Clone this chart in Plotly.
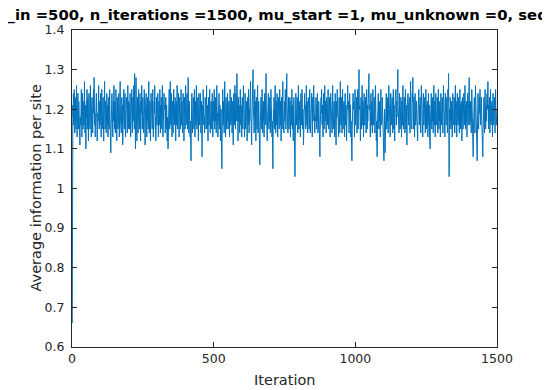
import plotly.graph_objects as go

iterations_max = 1500
y_ticks = [0.6, 0.7, 0.8, 0.9, 1.0, 1.1, 1.2, 1.3, 1.4]
x_ticks = [0, 500, 1000, 1500]
title_text = "n_in =500, n_iterations =1500, mu_start =1, mu_unknown =0, seq_length =100"
x_label = "Iteration"
y_label = "Average information per site"

avg_info = [
    0.66,1.13,1.21,1.18,1.24,1.16,1.20,1.25,1.19,1.14,1.22,1.17,1.23,1.15,1.19,1.26,1.18,1.13,1.21,1.16,1.24,1.19,1.15,1.22,1.17,1.20,1.14,1.11,1.18,1.23,1.16,1.21,1.25,1.17,1.13,1.20,1.24,1.18,1.15,1.22,1.19,1.16,1.23,1.27,1.18,1.14,1.21,1.17,1.10,1.16,
    1.22,1.18,1.25,1.15,1.19,1.23,1.17,1.12,1.20,1.24,1.18,1.21,1.15,1.19,1.26,1.20,1.16,1.13,1.21,1.17,1.23,1.19,1.14,1.18,1.22,1.25,1.19,1.28,1.21,1.16,1.19,1.13,1.17,1.22,1.18,1.24,1.20,1.15,1.12,1.19,1.23,1.17,1.21,1.26,1.19,1.15,1.18,1.22,1.16,1.20,
    1.24,1.17,1.13,1.20,1.25,1.18,1.22,1.15,1.19,1.23,1.16,1.12,1.18,1.21,1.27,1.19,1.15,1.22,1.17,1.20,1.14,1.18,1.24,1.19,1.16,1.21,1.13,1.17,1.23,1.20,1.15,1.19,1.25,1.18,1.12,1.16,1.09,1.15,1.21,1.18,1.24,1.20,1.16,1.13,1.19,1.22,1.17,1.26,1.20,1.15,
    1.18,1.22,1.14,1.19,1.25,1.21,1.16,1.12,1.18,1.23,1.19,1.15,1.21,1.17,1.24,1.20,1.13,1.18,1.22,1.27,1.19,1.16,1.20,1.14,1.18,1.23,1.17,1.21,1.11,1.16,1.22,1.18,1.25,1.19,1.15,1.20,1.24,1.17,1.13,1.19,1.21,1.16,1.23,1.18,1.14,1.20,1.26,1.19,1.15,1.22,
    1.17,1.21,1.15,1.19,1.24,1.18,1.13,1.20,1.16,1.22,1.25,1.19,1.14,1.18,1.23,1.17,1.21,1.26,1.20,1.15,1.29,1.18,1.13,1.10,1.19,1.28,1.21,1.16,1.12,1.19,1.23,1.18,1.14,1.20,1.25,1.17,1.21,1.15,1.19,1.24,1.18,1.12,1.17,1.22,1.19,1.26,1.20,1.15,1.18,1.23,
    1.16,1.20,1.14,1.19,1.25,1.21,1.17,1.11,1.18,1.22,1.19,1.24,1.16,1.13,1.20,1.17,1.23,1.19,1.15,1.21,1.27,1.18,1.14,1.19,1.22,1.16,1.12,1.18,1.24,1.20,1.17,1.21,1.15,1.19,1.25,1.18,1.13,1.20,1.16,1.22,1.19,1.26,1.21,1.15,1.18,1.12,1.17,1.23,1.19,1.16,
    1.21,1.18,1.24,1.17,1.13,1.19,1.22,1.16,1.20,1.25,1.18,1.14,1.21,1.17,1.23,1.19,1.15,1.20,1.26,1.18,1.13,1.19,1.22,1.16,1.24,1.20,1.17,1.21,1.14,1.18,1.23,1.19,1.15,1.21,1.17,1.12,1.18,1.14,1.10,1.17,1.22,1.19,1.25,1.18,1.15,1.21,1.27,1.19,1.16,1.20,
    1.24,1.17,1.13,1.19,1.22,1.18,1.14,1.20,1.25,1.19,1.16,1.21,1.17,1.23,1.19,1.12,1.18,1.22,1.16,1.20,1.26,1.19,1.15,1.21,1.17,1.24,1.18,1.13,1.19,1.23,1.17,1.21,1.15,1.19,1.25,1.20,1.16,1.22,1.18,1.14,1.19,1.24,1.17,1.21,1.12,1.18,1.23,1.19,1.15,1.21,
    1.26,1.19,1.16,1.22,1.18,1.24,1.20,1.15,1.21,1.28,1.19,1.14,1.18,1.22,1.16,1.20,1.13,1.17,1.11,1.07,1.15,1.20,1.24,1.18,1.14,1.21,1.17,1.23,1.19,1.15,1.20,1.25,1.18,1.13,1.19,1.22,1.16,1.21,1.26,1.19,1.15,1.20,1.17,1.23,1.18,1.12,1.19,1.24,1.20,1.16,
    1.21,1.17,1.24,1.19,1.14,1.18,1.22,1.13,1.08,1.16,1.21,1.18,1.25,1.20,1.16,1.22,1.18,1.14,1.19,1.23,1.17,1.21,1.15,1.20,1.26,1.19,1.15,1.21,1.17,1.12,1.18,1.23,1.19,1.16,1.21,1.25,1.18,1.14,1.20,1.17,1.22,1.19,1.15,1.20,1.24,1.18,1.13,1.19,1.22,1.17,
    1.21,1.25,1.19,1.15,1.20,1.17,1.23,1.18,1.14,1.19,1.26,1.21,1.16,1.19,1.13,1.18,1.22,1.17,1.24,1.19,1.15,1.21,1.18,1.12,1.17,1.20,1.14,1.09,1.05,1.14,1.20,1.25,1.19,1.16,1.22,1.18,1.14,1.20,1.27,1.21,1.17,1.13,1.19,1.23,1.18,1.15,1.21,1.17,1.24,1.19,
    1.15,1.20,1.16,1.22,1.18,1.13,1.19,1.25,1.20,1.16,1.21,1.17,1.23,1.19,1.14,1.18,1.22,1.16,1.11,1.18,1.24,1.20,1.16,1.21,1.26,1.19,1.15,1.20,1.24,1.22,1.17,1.29,1.20,1.15,1.19,1.12,1.18,1.23,1.17,1.21,1.19,1.14,1.20,1.25,1.18,1.16,1.21,1.17,1.13,1.19,
    1.23,1.18,1.15,1.20,1.26,1.21,1.16,1.19,1.13,1.18,1.24,1.19,1.15,1.21,1.17,1.22,1.18,1.12,1.17,1.23,1.20,1.16,1.25,1.19,1.14,1.20,1.17,1.22,1.18,1.27,1.20,1.15,1.19,1.11,1.17,1.23,1.19,1.24,1.30,1.21,1.16,1.20,1.14,1.19,1.25,1.18,1.22,1.16,1.12,1.18,
    1.23,1.19,1.15,1.21,1.26,1.18,1.14,1.19,1.22,1.16,1.12,1.09,1.06,1.14,1.20,1.17,1.23,1.19,1.15,1.21,1.25,1.19,1.14,1.20,1.17,1.22,1.18,1.13,1.19,1.24,1.20,1.16,1.21,1.27,1.29,1.20,1.15,1.19,1.12,1.17,1.22,1.18,1.24,1.19,1.15,1.20,1.17,1.23,1.18,1.14,
    1.19,1.25,1.20,1.16,1.21,1.13,1.17,1.10,1.05,1.14,1.20,1.17,1.23,1.19,1.15,1.21,1.26,1.19,1.14,1.18,1.22,1.16,1.20,1.24,1.18,1.13,1.19,1.23,1.17,1.21,1.15,1.19,1.25,1.20,1.16,1.22,1.18,1.12,1.17,1.23,1.19,1.15,1.21,1.27,1.20,1.16,1.19,1.14,1.18,1.22,
    1.17,1.21,1.25,1.19,1.15,1.21,1.24,1.29,1.21,1.16,1.20,1.14,1.19,1.23,1.18,1.15,1.21,1.17,1.23,1.19,1.13,1.18,1.22,1.16,1.20,1.25,1.19,1.15,1.21,1.17,1.12,1.18,1.23,1.19,1.14,1.09,1.03,1.12,1.19,1.24,1.20,1.16,1.21,1.17,1.23,1.18,1.14,1.20,1.26,1.19,
    1.15,1.21,1.17,1.22,1.18,1.13,1.19,1.24,1.20,1.16,1.21,1.25,1.19,1.15,1.20,1.17,1.11,1.17,1.22,1.18,1.24,1.20,1.16,1.21,1.15,1.19,1.26,1.20,1.16,1.22,1.18,1.14,1.19,1.23,1.17,1.21,1.15,1.20,1.25,1.19,1.14,1.18,1.22,1.16,1.20,1.24,1.18,1.13,1.19,1.23,
    1.17,1.21,1.26,1.20,1.16,1.19,1.14,1.18,1.22,1.17,1.23,1.19,1.15,1.21,1.17,1.24,1.19,1.14,1.20,1.16,1.22,1.18,1.13,1.12,1.08,1.15,1.21,1.17,1.23,1.19,1.25,1.20,1.16,1.21,1.17,1.13,1.19,1.24,1.18,1.15,1.20,1.26,1.21,1.17,1.22,1.18,1.14,1.19,1.23,1.17,
    1.21,1.16,1.20,1.25,1.19,1.15,1.21,1.17,1.23,1.18,1.13,1.19,1.24,1.20,1.16,1.22,1.18,1.14,1.20,1.26,1.19,1.15,1.21,1.17,1.22,1.18,1.13,1.19,1.24,1.20,1.16,1.11,1.17,1.22,1.18,1.25,1.20,1.16,1.21,1.17,1.13,1.19,1.23,1.18,1.14,1.20,1.27,1.21,1.16,1.19,
    1.23,1.18,1.14,1.20,1.25,1.19,1.15,1.21,1.17,1.22,1.18,1.13,1.19,1.24,1.20,1.16,1.21,1.17,1.12,1.18,1.23,1.19,1.26,1.20,1.16,1.22,1.18,1.14,1.19,1.24,1.20,1.16,1.21,1.13,1.17,1.11,1.14,1.07,1.15,1.21,1.18,1.24,1.20,1.16,1.22,1.17,1.13,1.19,1.25,1.20,
    1.16,1.21,1.17,1.23,1.19,1.14,1.20,1.25,1.19,1.15,1.21,1.24,1.30,1.20,1.16,1.21,1.17,1.12,1.18,1.23,1.19,1.15,1.20,1.26,1.21,1.16,1.22,1.18,1.13,1.19,1.24,1.20,1.16,1.21,1.17,1.23,1.18,1.14,1.20,1.25,1.19,1.15,1.21,1.17,1.22,1.18,1.24,1.29,1.20,1.16,
    1.21,1.17,1.13,1.19,1.24,1.20,1.16,1.22,1.18,1.14,1.19,1.25,1.20,1.16,1.21,1.17,1.23,1.18,1.14,1.20,1.26,1.19,1.15,1.12,1.17,1.13,1.08,1.15,1.21,1.18,1.24,1.19,1.15,1.21,1.17,1.22,1.18,1.13,1.19,1.25,1.20,1.16,1.21,1.17,1.23,1.19,1.14,1.20,1.16,1.12,
    1.07,1.14,1.20,1.17,1.09,1.16,1.22,1.18,1.24,1.19,1.15,1.21,1.17,1.23,1.19,1.14,1.20,1.26,1.21,1.16,1.22,1.18,1.13,1.19,1.24,1.20,1.16,1.21,1.17,1.23,1.18,1.14,1.20,1.25,1.19,1.15,1.21,1.17,1.12,1.18,1.23,1.19,1.25,1.20,1.16,1.22,1.18,1.24,1.26,1.30,
    1.21,1.16,1.20,1.14,1.19,1.24,1.18,1.15,1.21,1.17,1.23,1.19,1.13,1.18,1.22,1.16,1.20,1.26,1.20,1.15,1.21,1.17,1.23,1.18,1.14,1.20,1.25,1.19,1.15,1.21,1.17,1.11,1.17,1.22,1.18,1.24,1.20,1.16,1.21,1.17,1.23,1.19,1.14,1.20,1.27,1.21,1.16,1.19,1.15,1.20,
    1.24,1.22,1.28,1.20,1.15,1.19,1.23,1.17,1.13,1.19,1.24,1.20,1.16,1.21,1.17,1.22,1.18,1.15,1.14,1.12,1.18,1.23,1.19,1.25,1.20,1.16,1.21,1.17,1.23,1.19,1.14,1.20,1.26,1.21,1.17,1.22,1.18,1.13,1.19,1.24,1.20,1.16,1.21,1.17,1.23,1.18,1.14,1.20,1.25,1.19,
    1.15,1.21,1.17,1.22,1.18,1.13,1.19,1.24,1.20,1.16,1.21,1.14,1.12,1.10,1.16,1.22,1.18,1.24,1.19,1.15,1.21,1.17,1.23,1.19,1.14,1.20,1.26,1.20,1.16,1.22,1.18,1.13,1.19,1.24,1.20,1.16,1.21,1.17,1.23,1.18,1.14,1.20,1.25,1.19,1.15,1.21,1.17,1.22,1.18,1.13,
    1.19,1.24,1.20,1.16,1.21,1.17,1.23,1.19,1.14,1.20,1.26,1.21,1.16,1.22,1.18,1.13,1.19,1.24,1.20,1.16,1.21,1.17,1.23,1.18,1.14,1.20,1.25,1.22,1.29,1.12,1.03,1.14,1.20,1.17,1.23,1.19,1.15,1.21,1.17,1.22,1.18,1.13,1.19,1.24,1.20,1.16,1.21,1.17,1.23,1.19,
    1.14,1.20,1.26,1.20,1.16,1.22,1.18,1.13,1.19,1.24,1.20,1.16,1.21,1.17,1.23,1.18,1.14,1.20,1.25,1.19,1.15,1.21,1.17,1.22,1.18,1.12,1.18,1.23,1.19,1.15,1.21,1.17,1.24,1.20,1.16,1.21,1.26,1.19,1.15,1.21,1.17,1.22,1.18,1.13,1.19,1.24,1.20,1.16,1.21,1.17,
    1.23,1.28,1.20,1.16,1.21,1.17,1.22,1.18,1.14,1.20,1.25,1.19,1.15,1.12,1.10,1.08,1.15,1.21,1.17,1.23,1.19,1.14,1.20,1.26,1.21,1.16,1.22,1.12,1.09,1.07,1.14,1.20,1.24,1.18,1.15,1.21,1.17,1.23,1.19,1.25,1.20,1.16,1.21,1.17,1.23,1.18,1.14,1.11,1.13,1.08,
    1.15,1.21,1.17,1.23,1.19,1.14,1.20,1.25,1.19,1.15,1.21,1.17,1.22,1.18,1.24,1.20,1.26,1.27,1.19,1.15,1.21,1.17,1.23,1.18,1.14,1.20,1.25,1.19,1.16,1.21,1.17,1.22,1.18,1.13,1.19,1.24,1.20,1.16,1.21,1.17,1.23,1.19,1.14,1.20,1.25,1.21,1.16,1.22,1.18,1.20,
]

iteration = list(range(1, len(avg_info) + 1))

axis_color = "#262626"
tick_font = dict(family="DejaVu Sans", size=12.5, color=axis_color)

fig = go.Figure()
fig.add_trace(go.Scatter(
    x=iteration, y=avg_info, mode="lines",
    line=dict(color="#0072BD", width=1),
    hoverinfo="skip", showlegend=False,
))

# page body has an 8px margin, so the figure is offset by 8px
fig.update_layout(
    width=550, height=390,
    margin=dict(l=64, r=61, t=22, b=51),
    paper_bgcolor="white", plot_bgcolor="white",
    showlegend=False,
    xaxis=dict(
        range=[0, iterations_max], tickvals=x_ticks, ticktext=[str(v) for v in x_ticks],
        showgrid=False, zeroline=False, showline=True, linecolor=axis_color, linewidth=1,
        mirror="ticks", ticks="inside", ticklen=5, tickcolor=axis_color, tickwidth=1,
        tickfont=tick_font,
    ),
    yaxis=dict(
        range=[0.6, 1.4], tickvals=y_ticks, ticktext=[f"{v:g}" for v in y_ticks],
        showgrid=False, zeroline=False, showline=True, linecolor=axis_color, linewidth=1,
        mirror="ticks", ticks="inside", ticklen=5, tickcolor=axis_color, tickwidth=1,
        tickfont=tick_font, ticklabelstandoff=4,
    ),
    annotations=[
        dict(text="<b>" + title_text + "</b>", xref="paper", yref="paper",
             x=-77 / 425, y=1.0, xanchor="left", yanchor="bottom", yshift=4,
             showarrow=False, font=dict(family="DejaVu Sans", size=14.8, color="black")),
        dict(text=x_label, xref="paper", yref="paper", x=0.5, y=-33 / 317,
             xanchor="center", yanchor="middle", showarrow=False,
             font=dict(family="DejaVu Sans", size=14.5, color=axis_color)),
        dict(text=y_label, xref="paper", yref="paper", x=-37 / 425, y=0.5,
             xanchor="center", yanchor="middle", textangle=-90, showarrow=False,
             font=dict(family="DejaVu Sans", size=14.5, color=axis_color)),
    ],
)

fig.write_html("out.html")
